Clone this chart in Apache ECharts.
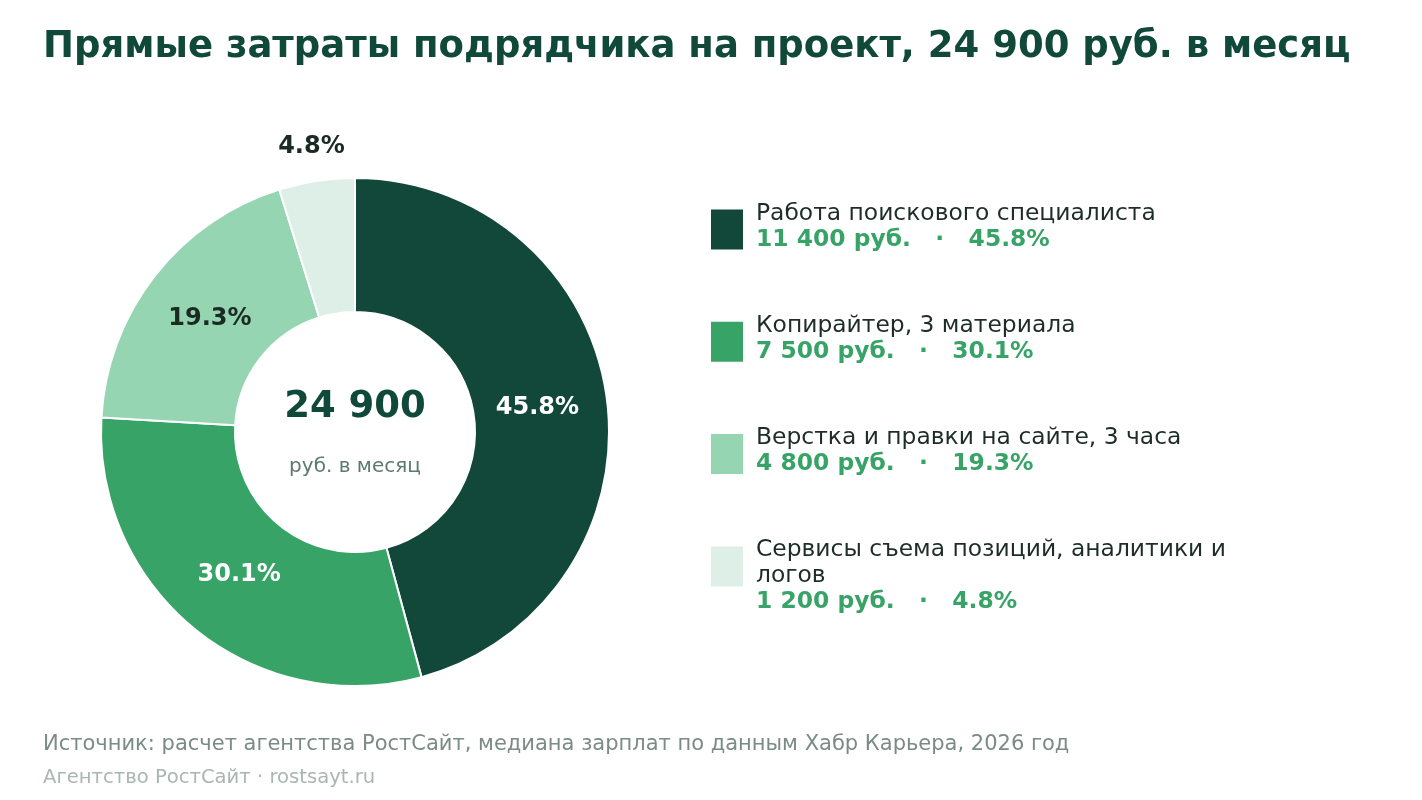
<!DOCTYPE html>
<html>
<head>
<meta charset="utf-8">
<script src="https://cdn.jsdelivr.net/npm/echarts@6/dist/echarts.min.js"></script>
<style>
html,body{margin:0;padding:0;background:#fff;}
#chart{width:1422px;height:800px;}
</style>
</head>
<body>
<div id="chart"></div>
<script>
// ---- data ----
const categories = [
  'Работа поискового специалиста',
  'Копирайтер, 3 материала',
  'Верстка и правки на сайте, 3 часа',
  'Сервисы съема позиций, аналитики и логов'
];
const values = [11400, 7500, 4800, 1200];
const titleText = 'Прямые затраты подрядчика на проект, 24 900 руб. в месяц';
const centerValue = '24 900';
const centerUnit = 'руб. в месяц';
const sourceText = 'Источник: расчет агентства РостСайт, медиана зарплат по данным Хабр Карьера, 2026 год';
const brandText = 'Агентство РостСайт · rostsayt.ru';

// ---- styles ----
const FONT = 'DejaVu Sans';
const palette = ['#11483a', '#38a367', '#95d5b2', '#ddefe6'];
const labelColors = ['#ffffff', '#ffffff', '#1b2b24', '#1b2b24'];
const LEG_FS = 23.4, LEG_LH = 26, LEG_WRAP = 480;

const total = values.reduce((a, b) => a + b, 0);
const pct = v => (v / total * 100).toFixed(1);
const fmtNum = n => String(n).replace(/\B(?=(\d{3})+(?!\d))/g, ' ');
const isSmall = v => v / total < 0.1;

// wrap legend names by measured width
const ctx = document.createElement('canvas').getContext('2d');
ctx.font = LEG_FS + 'px "' + FONT + '"';
function wrap(text) {
  const words = text.split(' ');
  const lines = [];
  let cur = '';
  words.forEach(w => {
    const t = cur ? cur + ' ' + w : w;
    if (cur && ctx.measureText(t).width > LEG_WRAP) { lines.push(cur); cur = w; }
    else cur = t;
  });
  if (cur) lines.push(cur);
  return lines;
}

const transparent = 'rgba(0,0,0,0)';
const labelBase = { position: 'inside', formatter: '{d}%', fontFamily: FONT, fontSize: 24, fontWeight: 'bold' };
const bigLabelData = categories.map((name, i) => ({
  name, value: values[i], itemStyle: { color: transparent },
  label: { show: !isSmall(values[i]), color: labelColors[i] }
}));
const smallLabelData = categories.map((name, i) => ({
  name, value: values[i], itemStyle: { color: transparent },
  label: { show: isSmall(values[i]), color: labelColors[i] }
}));
const mainData = categories.map((name, i) => ({ name, value: values[i], itemStyle: { color: palette[i] } }));

// one legend block per category; icon top sits 9px below the text top
const LEG_TOP0 = 202, LEG_STEP = 112.3, ICON_OFF = 9, ICON_H = 40;
const legends = categories.map((name, i) => {
  const lines = wrap(name);
  const H = (lines.length + 1) * LEG_LH;
  const diff = H - 2 * (ICON_OFF + ICON_H / 2); // padTop - padBottom
  const padTop = diff > 0 ? diff : 0;
  const padBottom = diff < 0 ? -diff : 0;
  return {
    orient: 'vertical', left: 711, top: LEG_TOP0 + i * LEG_STEP, padding: 0,
    itemWidth: 32, itemHeight: ICON_H, icon: 'rect', selectedMode: false,
    itemStyle: { borderWidth: 0 },
    data: [{ name, itemStyle: { color: palette[i], borderWidth: 0 } }],
    formatter: () => lines.map(l => '{n|' + l + '}').join('\n') +
      '\n{v|' + fmtNum(values[i]) + ' руб.   ·   ' + pct(values[i]) + '%}',
    textStyle: {
      fontFamily: FONT, padding: [padTop, 0, padBottom, 8],
      rich: {
        n: { fontFamily: FONT, fontSize: LEG_FS, color: '#1e2d27', lineHeight: LEG_LH },
        v: { fontFamily: FONT, fontSize: LEG_FS, fontWeight: 'bold', color: '#38a367', lineHeight: LEG_LH }
      }
    }
  };
});

const chart = echarts.init(document.getElementById('chart'), null, { renderer: 'canvas' });
chart.setOption({
  backgroundColor: '#ffffff',
  animation: false,
  title: [
    { text: titleText, left: 38, top: 24, textStyle: { fontFamily: FONT, fontSize: 37, fontWeight: 'bold', color: '#10493a' } },
    { text: sourceText, left: 38, top: 729, textStyle: { fontFamily: FONT, fontSize: 21, fontWeight: 'normal', color: '#7b8b85' } },
    { text: brandText, left: 38, top: 763, textStyle: { fontFamily: FONT, fontSize: 19.6, fontWeight: 'normal', color: '#a9b6b1' } }
  ],
  legend: legends,
  graphic: [
    { type: 'text', x: 355, y: 407, style: { text: centerValue, align: 'center', verticalAlign: 'middle', fontFamily: FONT, fontSize: 37, fontWeight: 'bold', fill: '#10493a' } },
    { type: 'text', x: 355, y: 467, style: { text: centerUnit, align: 'center', verticalAlign: 'middle', fontFamily: FONT, fontSize: 20, fill: '#5d7a6e' } }
  ],
  series: [
    {
      type: 'pie', center: [355, 432], radius: [120, 254], startAngle: 90, clockwise: true,
      silent: true,
      itemStyle: { borderColor: '#ffffff', borderWidth: 2 },
      label: { show: false }, labelLine: { show: false },
      emphasis: { disabled: true },
      data: mainData
    },
    {
      type: 'pie', center: [355, 432], radius: [108, 254], startAngle: 90, clockwise: true,
      percentPrecision: 1, silent: true, legendHoverLink: false,
      label: labelBase, labelLine: { show: false },
      emphasis: { disabled: true },
      data: bigLabelData
    },
    {
      type: 'pie', center: [355, 432], radius: [260, 312], startAngle: 90, clockwise: true,
      percentPrecision: 1, silent: true, legendHoverLink: false,
      label: labelBase, labelLine: { show: false },
      emphasis: { disabled: true },
      data: smallLabelData
    }
  ]
});
</script>
</body>
</html>
